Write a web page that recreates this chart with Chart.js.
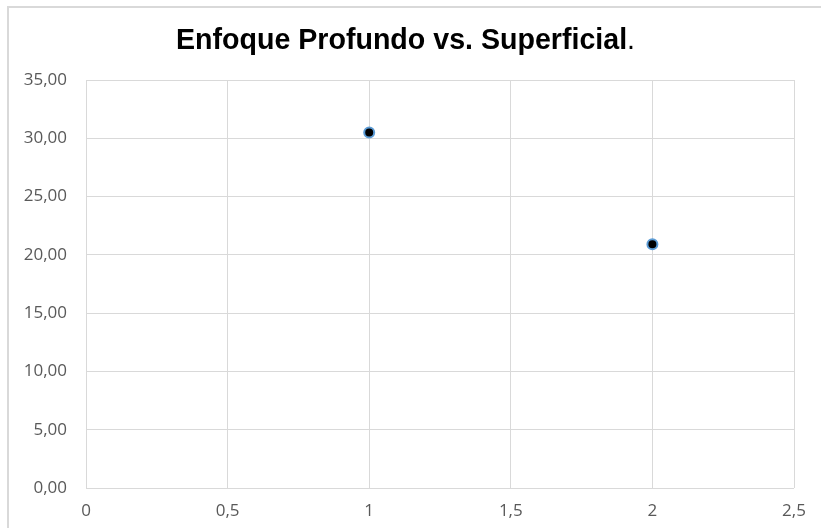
<!DOCTYPE html>
<html>
<head>
<meta charset="utf-8">
<title>Enfoque Profundo vs. Superficial</title>
<script src="https://cdn.jsdelivr.net/npm/chart.js@4"></script>
<style>
    html, body { margin: 0; padding: 0; background: #fff; }
    #wrap { position: relative; width: 821px; height: 528px; overflow: hidden; }
    #frame { position: absolute; left: 7px; top: 6px; width: 900px; height: 900px; border: 2px solid #d9d9d9; }
    #chart { position: absolute; left: 0; top: 0; }
</style>
</head>
<body>
<div id="wrap">
    <div id="frame"></div>
    <canvas id="chart" width="821" height="528"></canvas>
</div>
<script>
// scatter values
const xValues = [1, 2];
const yValues = [30.5, 20.9];
const chartTitle = 'Enfoque Profundo vs. Superficial';

const gridColor = '#d9d9d9';
const tickColor = '#595959';
const tickFont = { family: '"Open Sans", "Noto Sans", sans-serif', size: 17 };

// comma decimal, like the original sheet
function fmtY(v) { return v.toFixed(2).replace('.', ','); }
function fmtX(v) { return String(v).replace('.', ','); }

const points = xValues.map((x, i) => ({ x: x, y: yValues[i] }));

// title drawn by hand: bold text with a plain trailing period
const titlePlugin = {
    id: 'sheetTitle',
    afterDraw(chart) {
        const c = chart.ctx;
        c.save();
        const bold = 'bold 28.6px "Liberation Sans", Arial, sans-serif';
        const plain = '28.6px "Liberation Sans", Arial, sans-serif';
        c.font = bold;
        const w1 = c.measureText(chartTitle).width;
        c.font = plain;
        const w2 = c.measureText('.').width;
        let x = 405.5 - (w1 + w2) / 2;
        c.fillStyle = '#000000';
        c.textBaseline = 'alphabetic';
        c.textAlign = 'left';
        c.font = bold;
        c.fillText(chartTitle, x, 48.5);
        c.font = plain;
        c.fillText('.', x + w1, 48.5);
        c.restore();
    }
};

const ctx = document.getElementById('chart').getContext('2d');
new Chart(ctx, {
    type: 'scatter',
    data: {
        datasets: [{
            data: points,
            backgroundColor: '#000000',
            borderColor: '#5b9bd5',
            borderWidth: 2,
            pointRadius: 5,
            pointHoverRadius: 5
        }]
    },
    options: {
        responsive: false,
        animation: false,
        layout: { padding: { left: 0, right: 27, top: 80, bottom: 0 } },
        plugins: {
            legend: { display: false },
            tooltip: { enabled: false },
            title: { display: false }
        },
        scales: {
            x: {
                type: 'linear',
                min: 0,
                max: 2.5,
                grid: { color: gridColor, lineWidth: 1, drawTicks: false },
                border: { display: false },
                ticks: {
                    stepSize: 0.5,
                    color: tickColor,
                    font: tickFont,
                    padding: 13,
                    maxRotation: 0,
                    callback: (v) => fmtX(v)
                },
                afterFit: (scale) => { scale.height = 40; }
            },
            y: {
                type: 'linear',
                min: 0,
                max: 35,
                grid: { color: gridColor, lineWidth: 1, drawTicks: false },
                border: { display: false },
                ticks: {
                    stepSize: 5,
                    color: tickColor,
                    font: tickFont,
                    padding: 19,
                    callback: (v) => fmtY(v)
                },
                afterFit: (scale) => { scale.width = 86; }
            }
        }
    },
    plugins: [titlePlugin]
});
</script>
</body>
</html>
